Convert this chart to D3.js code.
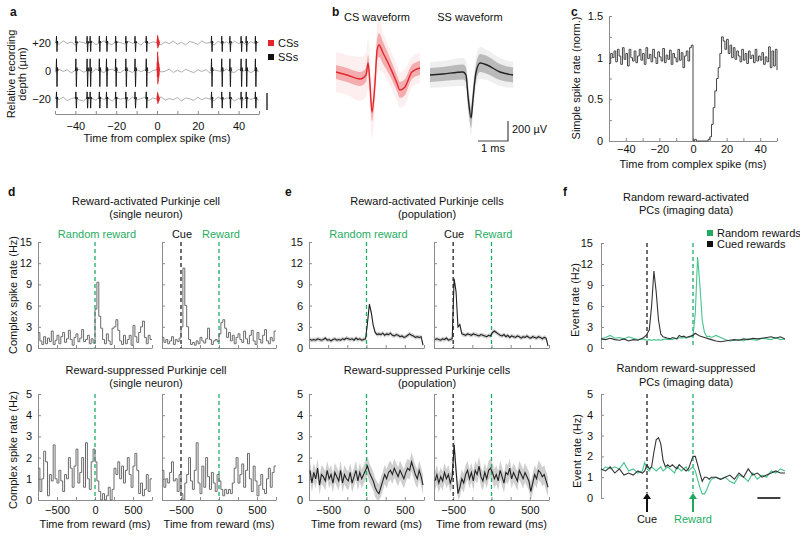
<!DOCTYPE html>
<html><head><meta charset="utf-8">
<script src="https://cdn.jsdelivr.net/npm/d3@7"></script>
<style>body{margin:0;background:#fff}</style></head><body>
<svg id="c" width="800" height="537"></svg>
<script>
// ---------------- DATA ----------------
// panel a
const aTickValues = [-50,-40,-30,-20,-10,0,10,20,30,40,50];
const aTickLabels = [-40,-20,0,20,40];
const aDepthLabels = ["+20","0","\u221220"];
const aNoiseP20 = [0.3,-0.6,0.9,-0.2,0.4,-0.8,0.5,0.2,-0.5,0.8,-0.7,0.1,0.9,-0.3,-0.6,0.5,0.2,-0.4,0.7,-0.2,0.4,-0.9,0.6,-0.2,0.5,0.1,-0.7,0.5,-0.3,0.8,-0.5,0.3,-0.8,0.6,0.2,-0.6,0.9,-0.1,0.2,-0.8,0.7,-0.4,0.5,-0.7,0.8,-0.2,0.3,-0.9,0.6,-0.3,0.4];
const aNoise0   = [-0.4,0.7,-0.2,0.5,-0.8,0.3,0.6,-0.5,0.2,-0.7,0.9,-0.1,-0.6,0.4,0.8,-0.3,-0.7,0.5,0.1,-0.6,0.7,-0.3,0.4,-0.8,0.2,0.6,-0.4,-0.1,0.8,-0.6,0.3,-0.5,0.7,0.0,-0.7,0.5,-0.2,0.6,-0.9,0.4,0.1,-0.5,0.8,-0.3,-0.6,0.7,-0.1,0.5,-0.7,0.3,-0.2];
const aNoiseM20 = [0.5,-0.3,0.8,-0.7,0.2,0.6,-0.4,-0.8,0.7,0.3,-0.5,0.9,-0.2,0.4,-0.9,0.6,-0.1,0.3,-0.6,0.8,-0.4,0.1,0.7,-0.7,0.5,-0.2,0.9,-0.5,0.2,-0.3,0.6,-0.8,0.4,0.1,-0.6,0.7,-0.3,0.5,-0.1,-0.7,0.8,-0.4,0.3,0.6,-0.8,0.2,-0.5,0.7,-0.2,0.4,-0.6];
const ssTimes = [-49.5,-40,-34.5,-33,-28.5,-25,-20.5,-15.5,-11,-5.5,26.5,31.5,35.5,41,43.5,48];
const ssShape = [0,1.0,2.8,-1.2,-3.6,-1.6,0.8,0.5,0];          // 0.12 ms steps
const csShape = [0,1.5,-1.0,3.2,-2.2,2.4,-1.8,1.6,-1.2,1.2,-0.8,0.6,0]; // 0.1 ms steps
const aSSAmp = [0.8,1.45,0.85];
const aCSAmp = [0.8,2.0,0.7];

// panel b (time ms, µV)
const csT    = [0,0.37,0.8,1.0,1.07,1.13,1.2,1.3,1.37,1.43,1.57,1.8,2.03,2.13,2.3,2.53,2.8];
const csMean = [0,-30,-70,-30,90,-110,-400,-110,220,270,190,50,-110,-180,-150,0,40];
const csSd   = [70,70,70,70,80,90,90,90,110,120,110,90,80,80,80,70,70];
const csOut  = [200,200,220,220,250,260,260,250,250,250,200,180,180,180,180,150,150];
const ssT    = [0,0.43,1.1,1.2,1.27,1.37,1.43,1.53,1.67,1.9,2.33,2.77];
const ssMean = [0,10,30,0,-220,-430,-250,20,120,100,30,0];
const ssSd   = [70,70,75,75,90,100,90,80,90,90,80,75];
const ssOut  = [130,130,140,140,160,170,160,150,160,150,140,130];

// panel c (1 ms bins, -50..50)
const cRate = [0.93,1.05,1.0,1.08,0.95,1.1,1.02,0.92,1.12,0.98,1.05,0.9,1.1,1.0,0.96,1.08,0.94,1.02,1.1,0.97,1.05,0.92,1.12,0.99,1.04,0.95,1.1,1.0,0.93,1.07,1.01,0.96,1.11,0.94,1.03,0.98,1.09,0.92,1.05,1.0,0.95,1.1,0.97,1.06,0.88,1.02,1.08,0.96,1.12,1.15,
 0.0,0.02,0,0,0,0,0,0,0,0.02,0.05,0.2,0.4,0.6,0.75,0.88,1.05,1.25,1.2,1.1,1.22,1.05,1.15,1.0,1.12,0.98,1.08,1.02,0.95,1.1,0.97,1.05,0.93,1.08,0.99,1.03,0.94,1.1,0.96,1.02,0.97,1.06,0.92,1.01,0.95,1.13,0.88,1.08,0.9,1.1,0.85];
const cYTicks = [0,0.25,0.5,0.75,1,1.25,1.5];
const cYLabels = [0,0.5,1,1.5];

// panels d/e : 25 ms bins from -750 to 750
const ticks250 = [-750,-500,-250,0,250,500,750];
const xLabelTicks = [-500,0,500];
const yTicksAct = [0,3,6,9,12,15];
const yTicksSup = [0,1,2,3,4,5];
const dActRandom = [2.2,1.0,0.5,1.6,0.6,1.4,0.9,2.4,0.5,1.1,1.8,0.6,1.6,2.2,0.8,1.3,2.5,1.2,0.4,1.5,2.0,0.9,1.4,2.6,0.9,1.2,1.8,0.6,1.3,0.7,
 5.5,9.3,4.5,2.8,1.2,0.6,2.0,1.0,0.5,2.8,3.0,4.0,2.5,1.0,0.5,1.8,0.6,1.2,1.8,0.4,3.2,1.6,0.8,2.2,3.0,3.8,1.5,0.6,1.8,1.2];
const dActCued = [1.5,0.8,1.2,0.6,1.0,1.6,0.5,1.2,0.9,1.4,
 3.0,11.3,6.0,3.0,1.2,0.5,0.8,0.4,1.0,0.6,1.5,1.0,0.7,1.3,2.8,1.2,0.5,1.0,1.2,0.9,
 2.0,3.6,4.0,2.8,1.5,2.2,1.0,1.8,0.6,1.5,2.0,1.2,0.8,2.4,1.3,0.6,1.8,2.5,1.0,0.5,2.2,1.2,0.7,1.8,2.6,1.0,0.6,1.5,1.0,2.4];
const dSupRandom = [1.5,0.4,1.0,2.3,1.8,0.2,1.2,0.9,2.6,1.0,0.8,1.4,0.9,0.4,1.2,1.0,2.0,1.5,0.6,1.6,2.4,0.8,1.3,2.0,0.6,2.7,1.0,0.5,1.8,2.4,
 1.8,0.9,0.4,0.0,0.3,0.0,0.2,0.6,0.0,0.5,1.5,1.2,1.8,1.0,1.6,0.8,1.4,2.0,1.2,0.6,1.6,2.2,1.4,0.3,0.8,0.2,0.5,1.2,0.4,1.0];
const dSupCued = [1.4,0.6,1.0,0.8,1.3,1.8,0.9,1.0,0.4,1.2,
 0.3,0.0,0.8,1.2,2.0,0.9,0.5,1.4,2.7,0.8,0.3,1.6,0.6,2.0,1.1,0.5,1.3,0.8,0.4,1.2,
 0.9,0.5,0.2,0.5,0.3,0.5,0.3,0.8,1.5,2.0,0.8,1.2,1.7,0.6,1.4,2.2,1.0,0.4,1.6,0.9,0.2,0.7,1.2,0.5,0.3,1.0,1.5,0.6,1.3,1.6];
const eActRandom = [1.2,1.1,1.2,1.1,1.3,1.2,1.1,1.2,1.4,1.1,1.2,1.0,1.2,1.3,1.1,1.2,1.1,1.3,1.2,1.4,1.3,1.2,1.3,1.1,1.4,1.2,1.3,1.1,1.2,1.3,
 3.5,6.2,5.0,3.2,2.2,1.9,2.0,1.9,2.1,1.8,2.0,1.9,2.1,1.8,1.7,1.9,1.8,1.6,1.7,1.5,1.6,1.8,2.0,1.8,1.7,1.5,1.6,1.5,1.6,0.4];
const eActCued = [1.2,1.3,1.2,1.1,1.3,1.2,1.4,1.1,1.2,1.3,
 9.8,8.0,3.0,3.3,2.0,1.9,1.8,2.0,1.9,1.8,2.0,1.9,1.8,1.7,1.9,1.8,1.7,1.6,1.8,1.7,
 2.2,2.4,2.2,2.0,1.8,1.7,1.9,1.6,1.8,1.5,1.7,1.6,1.5,1.7,1.6,1.4,1.6,1.5,1.7,1.5,1.4,1.6,1.5,1.4,1.6,1.5,1.3,1.5,1.4,0.3];
const eSupRandom = [1.4,0.8,1.3,1.0,1.5,0.7,1.2,1.1,0.9,1.4,1.0,1.2,0.8,1.3,1.1,0.9,1.4,0.8,1.2,1.0,0.9,1.3,0.8,1.1,1.4,0.9,1.3,1.0,1.2,1.4,
 1.6,1.3,1.1,0.9,0.6,0.4,0.3,0.6,0.9,1.2,1.0,1.3,1.4,1.2,1.5,1.3,1.1,1.4,1.2,1.0,1.3,1.5,1.4,1.8,1.5,1.2,1.0,1.4,1.1,0.7];
const eSupCued = [0.9,1.2,0.8,1.1,0.9,1.3,1.0,1.2,0.8,1.1,
 2.6,1.4,0.3,0.6,1.0,0.8,1.2,1.4,1.0,1.3,0.9,1.4,1.2,1.6,1.1,0.9,1.3,1.0,1.4,1.5,
 1.3,1.0,1.2,0.9,1.4,1.1,0.8,1.3,1.2,1.5,1.0,1.3,1.1,0.9,1.4,1.2,1.0,1.3,1.1,0.9,0.4,0.8,1.2,1.0,1.4,1.3,1.1,1.2,0.9,0.6];
const eBandAct = 0.3, eBandSup = 0.45;

// panel f (imaging)
const fTime = [-1000,-950,-900,-850,-800,-750,-700,-650,-600,-550,
 -525,-500,-475,-450,-425,-400,-375,-350,-325,-300,-275,-250,-225,-200,-175,-150,-125,-100,-75,-50,-25,0,25,50,75,100,125,150,175,200,
 250,300,350,400,450,500,550,600,650,700,750,800,850,900,950,1000];
const fActCued = [1.3,1.2,1.4,1.2,1.1,1.3,1.0,1.2,1.1,1.4,
 1.6,2.0,2.6,6.0,11.0,8.0,4.0,2.0,1.6,1.5,1.4,1.3,1.5,1.4,1.3,1.8,1.6,1.7,1.5,1.6,1.7,1.8,2.1,1.9,1.7,1.6,1.5,1.4,1.3,1.2,
 1.0,0.9,1.0,1.1,1.2,1.1,1.3,1.2,1.4,1.3,1.4,1.5,1.6,1.4,1.6,1.3];
const fActRandom = [1.3,1.5,1.8,1.4,1.5,1.3,1.6,1.4,1.2,1.3,
 1.2,1.1,1.2,1.1,1.2,1.1,1.2,1.1,1.2,1.3,1.2,1.3,1.2,1.4,1.3,1.5,1.4,1.5,1.4,1.5,1.6,1.7,5.0,13.0,9.0,4.0,2.2,1.6,1.7,1.5,
 1.8,1.5,1.2,1.0,1.1,1.2,1.0,1.3,1.2,1.1,1.4,1.3,1.2,1.5,1.2,1.3];
const fSupCued = [1.4,1.3,1.5,1.2,1.4,1.1,1.2,1.1,1.3,1.2,
 1.3,1.6,1.4,1.5,2.2,2.8,2.9,2.6,1.8,1.5,1.6,1.5,1.6,1.5,1.4,1.6,1.5,1.4,1.3,1.4,1.7,2.0,2.0,1.6,1.2,0.8,1.0,1.0,0.9,1.0,
 1.0,0.9,1.0,1.1,0.9,1.2,1.0,1.4,1.1,1.2,1.0,1.1,1.2,1.3,1.2,1.2];
const fSupRandom = [1.3,1.5,1.4,1.5,1.4,1.7,1.3,1.4,1.2,1.3,
 1.7,1.4,1.3,1.5,1.4,1.3,1.4,1.5,1.3,1.4,1.5,1.4,1.3,1.2,1.5,1.4,1.3,1.4,1.5,1.3,1.4,1.5,1.3,0.9,0.5,0.2,0.2,0.4,0.7,0.9,
 1.0,0.9,1.0,0.8,0.7,1.1,1.0,0.8,1.2,0.9,1.1,1.0,1.3,1.2,1.4,1.3];

// ---------------- DRAWING ----------------
const FONT = '"Liberation Sans", Arial, Helvetica, sans-serif';
const GREEN = '#1fad62', GREEN_LINE = '#45c48d', RED = '#e3262b', AXIS = '#8c8c8c', DARK = '#222';
const svg = d3.select('#c').style('font-family', FONT);

function txt(x, y, s, o = {}) {
  const t = svg.append('text').attr('x', x).attr('y', y).text(s)
    .attr('font-size', o.size || 11).attr('fill', o.fill || '#111')
    .attr('text-anchor', o.anchor || 'middle');
  if (o.bold) t.attr('font-weight', 'bold');
  if (o.rot) t.attr('transform', `rotate(-90,${x},${y})`).attr('dominant-baseline', 'central');
  return t;
}
function styleAxis(g) {
  g.attr('font-family', FONT).attr('font-size', 11);
  g.select('.domain').attr('stroke', AXIS);
  g.selectAll('.tick line').attr('stroke', AXIS);
  g.selectAll('.tick text').attr('fill', '#111');
}
const fmt = d3.format('');
function xAxis(scale, y, vals, labels, pad) {
  const g = svg.append('g').attr('transform', `translate(0,${y})`)
    .call(d3.axisBottom(scale).tickValues(vals).tickSize(-3).tickSizeOuter(0).tickPadding(pad)
      .tickFormat(d => labels.includes(d) ? fmt(d) : ''));
  styleAxis(g);
}
function yAxis(scale, x, vals, labels, pad) {
  const g = svg.append('g').attr('transform', `translate(${x},0)`)
    .call(d3.axisLeft(scale).tickValues(vals).tickSize(-3).tickSizeOuter(0).tickPadding(pad)
      .tickFormat(d => labels.includes(d) ? fmt(d) : ''));
  styleAxis(g);
}
function vdash(x, y0, y1, col) {
  svg.append('line').attr('x1', x).attr('x2', x).attr('y1', y0).attr('y2', y1)
    .attr('stroke', col).attr('stroke-width', 1.3).attr('stroke-dasharray', '4,3');
}

// ===== panel a =====
txt(10, 16, 'a', {bold: true, anchor: 'start', size: 12});
const xa = d3.scaleLinear().domain([-50, 50]).range([55, 259]);
xAxis(xa, 114, aTickValues, aTickLabels, 8);
const aRowsY = [43, 71, 99];
const aNoises = [aNoiseP20, aNoise0, aNoiseM20];
aRowsY.forEach((base, r) => {
  const ya = d3.scaleLinear().domain([-1, 1]).range([base + 3, base - 3]);
  const noise = aNoises[r];
  const step = 100 / (noise.length - 1);
  svg.append('path').datum(noise)
    .attr('d', d3.line().x((d, i) => xa(-50 + i * step)).y(d => ya(d * 0.8)))
    .attr('fill', 'none').attr('stroke', '#9a9a9a').attr('stroke-width', 0.8);
  ssTimes.forEach(t0 => {
    svg.append('path').datum(ssShape)
      .attr('d', d3.line().x((d, i) => xa(t0 + i * 0.12)).y(d => ya(d * aSSAmp[r])))
      .attr('fill', 'none').attr('stroke', '#111').attr('stroke-width', 0.9);
  });
  svg.append('path').datum(csShape)
    .attr('d', d3.line().x((d, i) => xa(i * 0.1)).y(d => ya(d * aCSAmp[r])))
    .attr('fill', 'none').attr('stroke', RED).attr('stroke-width', 1.1);
  txt(51, base + 4, aDepthLabels[r], {anchor: 'end'});
});
txt(157, 142, 'Time from complex spike (ms)');
txt(11, 74, 'Relative recording', {rot: true});
txt(22, 74, 'depth (\u00b5m)', {rot: true});
svg.append('rect').attr('x', 268).attr('y', 40).attr('width', 6).attr('height', 6).attr('fill', RED);
svg.append('rect').attr('x', 268).attr('y', 54).attr('width', 6).attr('height', 6).attr('fill', '#111');
txt(278, 47, 'CSs', {anchor: 'start'});
txt(278, 61, 'SSs', {anchor: 'start'});
svg.append('line').attr('x1', 267).attr('x2', 267).attr('y1', 93).attr('y2', 110).attr('stroke', '#333').attr('stroke-width', 1.5);

// ===== panel b =====
txt(332, 16, 'b', {bold: true, anchor: 'start', size: 12});
txt(377, 21, 'CS waveform');
txt(470, 21, 'SS waveform');
const xcs = d3.scaleLinear().domain([0, 2.8]).range([336, 420]);
const ycs = d3.scaleLinear().domain([-500, 300]).range([122, 42]);
const xss = d3.scaleLinear().domain([0, 2.8]).range([430, 514]);
const yss = d3.scaleLinear().domain([-500, 300]).range([125, 45]);
function wave(xs, ys, T, M, S, O, col, band, outer) {
  const idx = T.map((_, i) => i);
  const cur = d3.curveMonotoneX;
  svg.append('path').datum(idx).attr('d', d3.area().curve(cur).x(i => xs(T[i])).y0(i => ys(M[i] - O[i])).y1(i => ys(M[i] + O[i])))
    .attr('fill', outer);
  svg.append('path').datum(idx).attr('d', d3.area().curve(cur).x(i => xs(T[i])).y0(i => ys(M[i] - S[i])).y1(i => ys(M[i] + S[i])))
    .attr('fill', band);
  svg.append('path').datum(idx).attr('d', d3.line().curve(cur).x(i => xs(T[i])).y(i => ys(M[i])))
    .attr('fill', 'none').attr('stroke', col).attr('stroke-width', 1.4);
}
wave(xcs, ycs, csT, csMean, csSd, csOut, RED, 'rgba(235,90,95,0.45)', 'rgba(240,120,125,0.12)');
wave(xss, yss, ssT, ssMean, ssSd, ssOut, '#222', 'rgba(150,150,150,0.6)', 'rgba(190,190,190,0.25)');
const sbX1 = xss(2.6), sbX0 = xss(1.6), sbY0 = yss(-660), sbY1 = yss(-460);
svg.append('path').attr('d', `M${sbX0},${sbY0}H${sbX1}V${sbY1}`).attr('fill', 'none').attr('stroke', '#444').attr('stroke-width', 1.2);
txt(512, 133, '200 \u00b5V', {anchor: 'start'});
txt(493, 152, '1 ms');

// ===== panel c =====
txt(571, 16, 'c', {bold: true, anchor: 'start', size: 12});
const xc = d3.scaleLinear().domain([-50, 50]).range([609, 777]);
const yc = d3.scaleLinear().domain([0, 1.5]).range([141, 16]);
xAxis(xc, 141, aTickValues, aTickLabels, 4);
yAxis(yc, 609, cYTicks, cYLabels, 6);
svg.append('path').datum(cRate)
  .attr('d', d3.line().curve(d3.curveStepAfter).x((d, i) => xc(-50 + i)).y(d => yc(d)))
  .attr('fill', 'none').attr('stroke', '#444').attr('stroke-width', 1);
txt(693, 168, 'Time from complex spike (ms)');
txt(576, 78, 'Simple spike rate (norm.)', {rot: true});

// ===== panels d / e =====
function histPanel(cfg) {
  const x = d3.scaleLinear().domain([-750, 750]).range([cfg.x0, cfg.x1]);
  const y = d3.scaleLinear().domain([0, cfg.ymax]).range([cfg.yb, cfg.yt]);
  const n = cfg.data.length, bw = 1500 / n;
  if (cfg.band) {
    svg.append('path').datum(cfg.data)
      .attr('d', d3.area().x((d, i) => x(-750 + (i + 0.5) * bw)).y0(d => y(Math.max(0, d - cfg.band))).y1(d => y(d + cfg.band)))
      .attr('fill', '#cfcfcf');
  }
  xAxis(x, cfg.yb, ticks250, cfg.xlab ? xLabelTicks : [], 6);
  yAxis(y, cfg.x0, cfg.yticks, cfg.ylab ? cfg.yticks : [], 6);
  if (cfg.cue) vdash(x(-500), cfg.yt, cfg.yb, DARK);
  vdash(x(0), cfg.yt, cfg.yb, GREEN);
  if (cfg.band) {
    svg.append('path').datum(cfg.data)
      .attr('d', d3.line().x((d, i) => x(-750 + (i + 0.5) * bw)).y(d => y(d)))
      .attr('fill', 'none').attr('stroke', '#222').attr('stroke-width', 1.1);
  } else {
    const pts = cfg.data.map((d, i) => [-750 + i * bw, d]).concat([[750, cfg.data[n - 1]]]);
    svg.append('path').datum(pts)
      .attr('d', d3.line().curve(d3.curveStepAfter).x(p => x(p[0])).y(p => y(p[1])))
      .attr('fill', 'none').attr('stroke', '#6a6a6a').attr('stroke-width', 1);
  }
  if (cfg.labels) {
    if (cfg.cue) {
      txt(x(-500) + 1, 238, 'Cue');
      txt(x(0) + 2, 238, 'Reward', {fill: GREEN});
    } else {
      txt(x(0) + 2, 238, 'Random reward', {fill: GREEN});
    }
  }
  if (cfg.xlab) txt((cfg.x0 + cfg.x1) / 2, 528, 'Time from reward (ms)');
}
// d
txt(8, 196, 'd', {bold: true, anchor: 'start', size: 12});
txt(146, 205, 'Reward-activated Purkinje cell');
txt(146, 218, '(single neuron)');
txt(146, 374, 'Reward-suppressed Purkinje cell');
txt(146, 387, '(single neuron)');
histPanel({x0: 38, x1: 152, yt: 242, yb: 348, ymax: 15, yticks: yTicksAct, ylab: true, data: dActRandom, labels: true});
histPanel({x0: 162, x1: 276, yt: 242, yb: 348, ymax: 15, yticks: yTicksAct, ylab: false, data: dActCued, cue: true, labels: true});
histPanel({x0: 38, x1: 152, yt: 394, yb: 500, ymax: 5, yticks: yTicksSup, ylab: true, xlab: true, data: dSupRandom});
histPanel({x0: 162, x1: 276, yt: 394, yb: 500, ymax: 5, yticks: yTicksSup, ylab: false, xlab: true, data: dSupCued, cue: true});
txt(13, 295, 'Complex spike rate (Hz)', {rot: true});
txt(13, 450, 'Complex spike rate (Hz)', {rot: true});
// e
txt(285, 196, 'e', {bold: true, anchor: 'start', size: 12});
txt(427, 205, 'Reward-activated Purkinje cells');
txt(427, 218, '(population)');
txt(427, 374, 'Reward-suppressed Purkinje cells');
txt(427, 387, '(population)');
histPanel({x0: 309, x1: 424, yt: 242, yb: 348, ymax: 15, yticks: yTicksAct, ylab: true, data: eActRandom, band: eBandAct, labels: true});
histPanel({x0: 434, x1: 549, yt: 242, yb: 348, ymax: 15, yticks: yTicksAct, ylab: false, data: eActCued, band: eBandAct, cue: true, labels: true});
histPanel({x0: 309, x1: 424, yt: 394, yb: 500, ymax: 5, yticks: yTicksSup, ylab: true, xlab: true, data: eSupRandom, band: eBandSup});
histPanel({x0: 434, x1: 549, yt: 394, yb: 500, ymax: 5, yticks: yTicksSup, ylab: false, xlab: true, data: eSupCued, band: eBandSup, cue: true});

// ===== panel f =====
txt(563, 196, 'f', {bold: true, anchor: 'start', size: 12});
txt(686, 201, 'Random reward-activated');
txt(686, 214, 'PCs (imaging data)');
txt(686, 372, 'Random reward-suppressed');
txt(686, 386, 'PCs (imaging data)');
const xf = d3.scaleLinear().domain([-1000, 1000]).range([601, 785]);
function fPanel(yt, yb, ymax, yticks, cued, random, dashEnd) {
  const y = d3.scaleLinear().domain([0, ymax]).range([yb, yt]);
  yAxis(y, 601, yticks, yticks, 8);
  vdash(xf(-500), yt, dashEnd, DARK);
  vdash(xf(0), yt, dashEnd, GREEN);
  const ln = d3.line().x((d, i) => xf(fTime[i])).y(d => y(d));
  svg.append('path').datum(random).attr('d', ln).attr('fill', 'none').attr('stroke', GREEN_LINE).attr('stroke-width', 1.1);
  svg.append('path').datum(cued).attr('d', ln).attr('fill', 'none').attr('stroke', '#333').attr('stroke-width', 1.1);
}
fPanel(243, 348, 15, yTicksAct, fActCued, fActRandom, 348);
fPanel(394, 498, 5, yTicksSup, fSupCued, fSupRandom, 493);
txt(575, 300, 'Event rate (Hz)', {rot: true});
txt(577, 451, 'Event rate (Hz)', {rot: true});
svg.append('rect').attr('x', 707).attr('y', 230).attr('width', 6).attr('height', 6).attr('fill', '#22a860');
svg.append('rect').attr('x', 707).attr('y', 241).attr('width', 6).attr('height', 6).attr('fill', '#111');
txt(717, 237, 'Random rewards', {anchor: 'start'});
txt(717, 248, 'Cued rewards', {anchor: 'start'});
[[xf(-500), '#111'], [xf(0), '#1fa85e']].forEach(([ax, col]) => {
  svg.append('line').attr('x1', ax).attr('x2', ax).attr('y1', 512).attr('y2', 498).attr('stroke', col).attr('stroke-width', 2);
  svg.append('path').attr('d', `M${ax - 4},${499}L${ax},${493}L${ax + 4},${499}Z`).attr('fill', col);
});
txt(xf(-500), 523, 'Cue');
txt(xf(0), 523, 'Reward', {fill: GREEN});
svg.append('line').attr('x1', xf(700)).attr('x2', xf(950)).attr('y1', 498).attr('y2', 498).attr('stroke', '#111').attr('stroke-width', 1.6);
</script>
</body></html>
